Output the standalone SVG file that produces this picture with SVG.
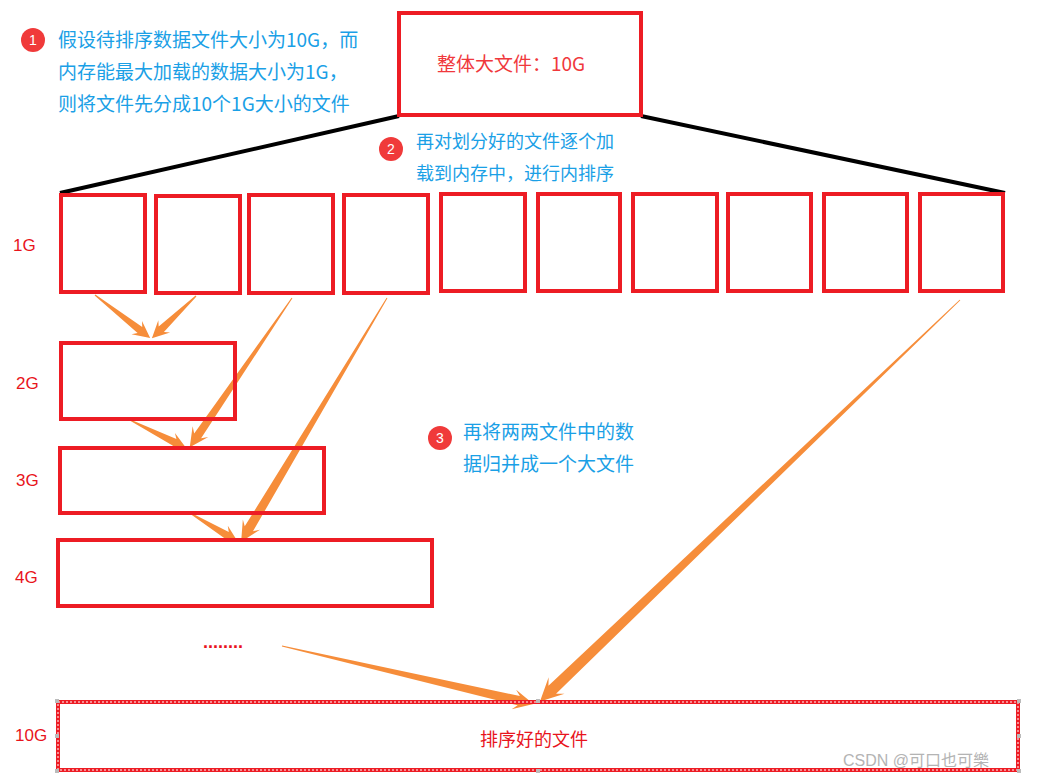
<svg xmlns="http://www.w3.org/2000/svg" width="1038" height="780" viewBox="0 0 1038 780">
<style>
.box{fill:none;stroke:#ED1C24;stroke-width:4}
.blue{fill:#1AA0E6;font-family:"Noto Sans CJK SC","Noto Sans",sans-serif}
.red{fill:#E8141C;font-family:"Noto Sans CJK SC","Noto Sans",sans-serif}
.badge{fill:#F03A3A}
.num{fill:#fff;font-family:"Liberation Sans",sans-serif;font-size:14px;text-anchor:middle}
.arr{fill:#F68D3A}
.lbl{fill:#E8141C;font-family:"Liberation Sans","Noto Sans",sans-serif;font-size:17px}
</style>
<rect width="1038" height="780" fill="#fff"/>
<g id="connectors">
<line x1="399" y1="116" x2="60" y2="193" stroke="#000" stroke-width="4"/>
<line x1="641" y1="116" x2="1005" y2="193" stroke="#000" stroke-width="4"/>
<polygon class="arr" transform="translate(95,295) rotate(38)" points="0,-0.6 57,-3.8 53,-8.5 70,0 53,8.5 57,3.8 0,0.6"/>
<polygon class="arr" transform="translate(196,296) rotate(136.3)" points="0,-0.6 48,-3.8 44,-8.5 61,0 44,8.5 48,3.8 0,0.6"/>
<polygon class="arr" transform="translate(292,298) rotate(124.4)" points="0,-0.5 167,-4.2 162,-9.5 181,0 162,9.5 167,4.2 0,0.5"/>
<polygon class="arr" transform="translate(130,420) rotate(26.6)" points="0,-0.6 50,-3.8 46,-8.5 63,0 46,8.5 50,3.8 0,0.6"/>
<polygon class="arr" transform="translate(387,298) rotate(120.9)" points="0,-0.5 269,-4.8 264,-10 284,0 264,10 269,4.8 0,0.5"/>
<polygon class="arr" transform="translate(190,513) rotate(31.1)" points="0,-0.6 43,-3.8 39,-8.5 56,0 39,8.5 43,3.8 0,0.6"/>
<polygon class="arr" transform="translate(282,646) rotate(13)" points="0,-0.5 243,-4.8 238,-10 258,0 238,10 243,4.8 0,0.5"/>
<polygon class="arr" transform="translate(960,300) rotate(136.3)" points="0,-0.5 564,-5.5 558,-11.5 581,0 558,11.5 564,5.5 0,0.5"/>
</g>
<g id="note1">
<circle class="badge" cx="33" cy="40" r="12"/>
<text class="num" x="33" y="45">1</text>
<text class="blue" font-size="19" x="58" y="47">假设待排序数据文件大小为10G，而</text>
<text class="blue" font-size="19" x="58" y="79">内存能最大加载的数据大小为1G，</text>
<text class="blue" font-size="19" x="58" y="111">则将文件先分成10个1G大小的文件</text>
</g>
<g id="bigfile">
<rect class="box" x="399" y="13" width="242" height="102"/>
<text class="red" font-size="19" x="511" y="71" text-anchor="middle" style="fill:#F0383C">整体大文件：10G</text>
</g>
<g id="note2">
<circle class="badge" cx="391" cy="149" r="12"/>
<text class="num" x="391" y="154">2</text>
<text class="blue" font-size="18" x="416" y="148">再对划分好的文件逐个加</text>
<text class="blue" font-size="18" x="416" y="180">载到内存中，进行内排序</text>
</g>
<g id="chunks">
<rect class="box" x="61" y="195" width="84" height="97"/>
<rect class="box" x="156" y="196" width="84" height="97"/>
<rect class="box" x="249" y="195" width="84" height="98"/>
<rect class="box" x="344" y="195" width="84" height="98"/>
<rect class="box" x="441" y="194" width="84" height="97"/>
<rect class="box" x="538" y="194" width="82" height="97"/>
<rect class="box" x="633" y="194" width="84" height="97"/>
<rect class="box" x="728" y="194" width="83" height="97"/>
<rect class="box" x="824" y="194" width="83" height="97"/>
<rect class="box" x="920" y="194" width="83" height="97"/>
<text class="lbl" x="13" y="251">1G</text>
</g>
<g id="merge2">
<rect class="box" x="61" y="343" width="174" height="76"/>
<text class="lbl" x="16" y="389">2G</text>
</g>
<g id="merge3">
<rect class="box" x="60" y="448" width="264" height="65"/>
<text class="lbl" x="16" y="486">3G</text>
</g>
<g id="merge4">
<rect class="box" x="58" y="540" width="374" height="66"/>
<text class="lbl" x="15" y="583">4G</text>
</g>
<g id="note3">
<circle class="badge" cx="440" cy="438" r="12"/>
<text class="num" x="440" y="443">3</text>
<text class="blue" font-size="19" x="463" y="439">再将两两文件中的数</text>
<text class="blue" font-size="19" x="463" y="471">据归并成一个大文件</text>
</g>
<g id="dots">
<text x="203" y="648" fill="#E8141C" font-family="Liberation Sans,sans-serif" font-size="18" font-weight="bold">........</text>
</g>
<g id="sorted">
<rect class="box" x="58" y="702" width="960" height="68"/>
<rect x="58" y="702" width="960" height="68" fill="none" stroke="#fff" stroke-width="1" stroke-dasharray="2 2"/>
<g fill="#bbb">
<rect x="55" y="699" width="4" height="4"/><rect x="536" y="699" width="4" height="4"/><rect x="1017" y="699" width="4" height="4"/>
<rect x="55" y="734" width="4" height="4"/><rect x="1017" y="734" width="4" height="4"/>
<rect x="55" y="769" width="4" height="4"/><rect x="536" y="769" width="4" height="4"/><rect x="1017" y="769" width="4" height="4"/>
</g>
<text class="red" font-size="18" x="534" y="746" text-anchor="middle">排序好的文件</text>
<text class="lbl" x="15" y="741">10G</text>
</g>
<text x="843" y="766" fill="#B4B4B4" font-family="Liberation Sans,'Noto Sans CJK SC',sans-serif" font-size="16">CSDN @可口也可樂</text>
</svg>
